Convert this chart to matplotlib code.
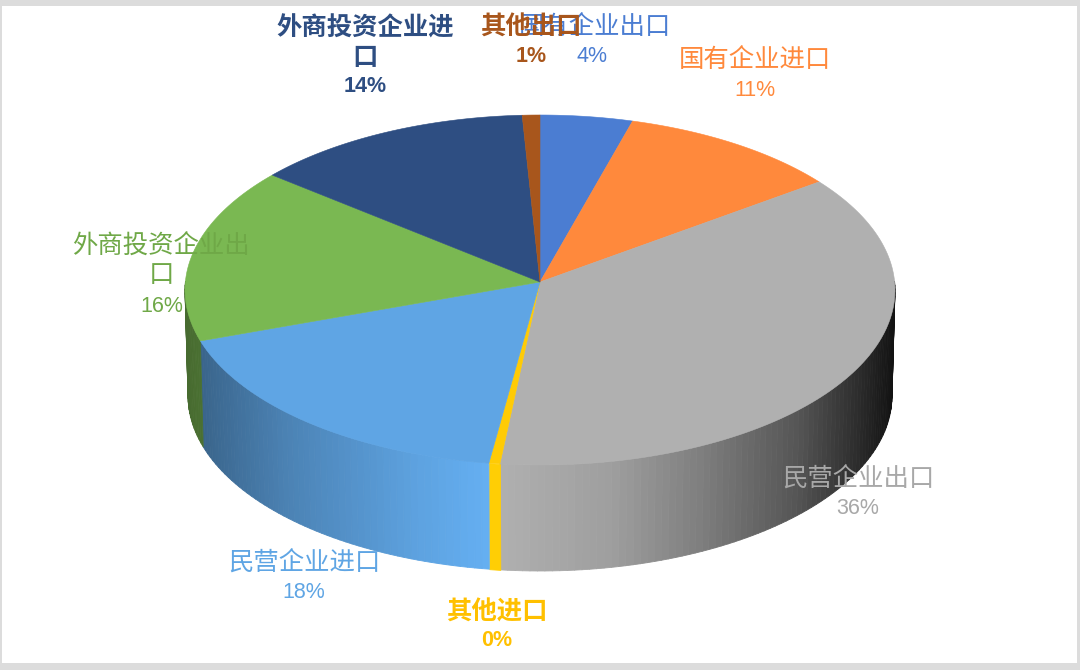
import numpy as np
import matplotlib
matplotlib.use('Agg')
import matplotlib.pyplot as plt
from matplotlib.collections import PolyCollection
from matplotlib.patches import Rectangle

plt.rcParams['font.family'] = ['Noto Sans CJK SC', 'DejaVu Sans']

names = ['国有企业出口', '国有企业进口', '民营企业出口', '其他进口',
         '民营企业进口', '外商投资企业出\n口', '外商投资企业进\n口', '其他出口']
percents = ['4%', '11%', '36%', '0%', '18%', '16%', '14%', '1%']
# slice sizes as drawn in the picture (perspective shifts them a bit from the printed %)
shares = [4.2, 10.2, 37.4, 0.5, 18.0, 16.1, 12.8, 0.8]
colors = ['#4b7dd2', '#ff893c', '#b0b0b0', '#ffcb05',
          '#5fa5e4', '#7ab852', '#2e4e82', '#a8561c']
text_colors = ['#4b7dd2', '#ff893c', '#a8a8a8', '#ffc000',
               '#5fa5e4', '#6fa847', '#2e4e82', '#a8561c']

name_x = [595, 755, 858, 497, 304, 161, 365, 531]
name_y = [27, 60, 480, 612, 564, 261, 43, 27]
pct_x = [592, 755, 858, 497, 304, 162, 365, 531]
pct_y = [56, 91, 509, 641, 593, 306, 87, 56]
label_weight = ['normal', 'normal', 'normal', 'bold', 'normal', 'normal', 'bold', 'bold']

# geometry of the disc in pixels
cx, cy, rx, ry = 540, 290, 355, 175
apex_y = 282
low_cy, low_rx, low_ry = 396, 352, 175


def rim(theta, x0=cx, y0=cy, a=rx, b=ry):
    return x0 + a * np.sin(theta), y0 - b * np.cos(theta)


def shade(frac):
    # side wall gets darker towards the edges, right side much more
    return np.interp(frac, [-1, -0.7, -0.35, -0.15, -0.12, 0.2, 0.45, 0.73, 0.9, 1],
                     [0.58, 0.8, 0.98, 1.06, 1.0, 0.9, 0.72, 0.48, 0.25, 0.1])


fig = plt.figure(figsize=(10.8, 6.7), dpi=100)
ax = fig.add_axes([0, 0, 1, 1])
ax.set_xlim(0, 1080)
ax.set_ylim(670, 0)
ax.axis('off')

edges = 2 * np.pi * np.concatenate([[0], np.cumsum(shares)]) / sum(shares)

# side wall
for t0, t1, col in zip(edges[:-1], edges[1:], colors):
    lo = max(t0, np.pi / 2 - 0.05)
    hi = min(t1, 3 * np.pi / 2 + 0.05)
    if hi <= lo:
        continue
    steps = np.linspace(lo, hi, max(2, int((hi - lo) / np.radians(1.2)) + 1))
    quads = []
    fills = []
    base = np.array(matplotlib.colors.to_rgb(col))
    for a, b in zip(steps[:-1], steps[1:]):
        xa, ya = rim(a)
        xb, yb = rim(b)
        xc, yc = rim(b, cx, low_cy, low_rx, low_ry)
        xd, yd = rim(a, cx, low_cy, low_rx, low_ry)
        quads.append([(xa, ya), (xb, yb), (xc, yc), (xd, yd)])
        fills.append(np.clip(base * shade(np.sin((a + b) / 2)), 0, 1))
    ax.add_collection(PolyCollection(quads, facecolors=fills, edgecolors=fills,
                                     linewidths=0.6, zorder=2))

# top face
for t0, t1, col in zip(edges[:-1], edges[1:], colors):
    arc = np.linspace(t0, t1, 120)
    xs, ys = rim(arc)
    ax.fill(np.r_[cx, xs], np.r_[apex_y, ys], color=col, lw=0.4, zorder=3)

# labels sit on top of the pie, same overlap as the source
for i, name in enumerate(names):
    ax.text(name_x[i], name_y[i], name, color=text_colors[i], fontsize=18.3,
            ha='center', va='center', linespacing=1.13, fontweight=label_weight[i], zorder=5)
    ax.text(pct_x[i], pct_y[i], percents[i], color=text_colors[i], fontsize=15.5,
            family='Liberation Sans', fontweight=label_weight[i],
            ha='center', va='center', zorder=5)

# frame of the screenshot
frame = '#dcdcdc'
ax.add_patch(Rectangle((0, 0), 1080, 6, color=frame, lw=0, zorder=6))
ax.add_patch(Rectangle((0, 663), 1080, 7, color=frame, lw=0, zorder=6))
ax.add_patch(Rectangle((0, 0), 1.5, 670, color=frame, lw=0, zorder=6))
ax.add_patch(Rectangle((1077, 0), 3, 670, color=frame, lw=0, zorder=6))

fig.savefig('out.png', dpi=100)
